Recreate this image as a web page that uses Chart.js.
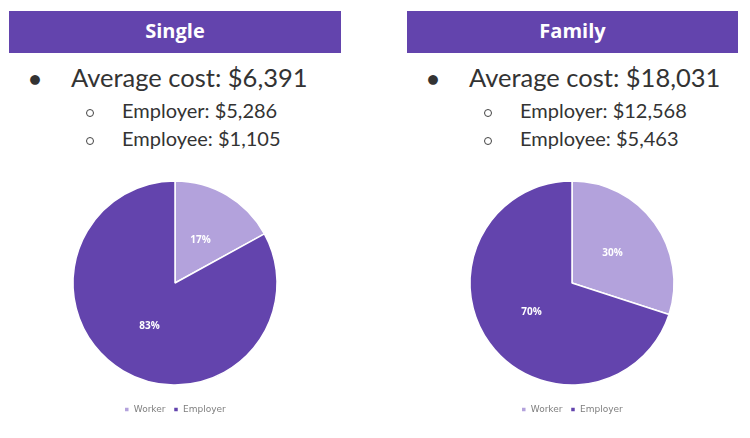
<!DOCTYPE html>
<html><head><meta charset="utf-8">
<script src="https://cdn.jsdelivr.net/npm/chart.js@4.4.1/dist/chart.umd.min.js"></script>
<style>
html,body{margin:0;padding:0;background:#fff;width:750px;height:438px;overflow:hidden;font-family:Lato,"Open Sans",sans-serif;}
.hdr{position:absolute;top:11px;height:42px;background:#6344ad;color:#fff;font-family:"Open Sans",sans-serif;font-weight:700;font-size:20px;line-height:40px;text-align:center;}
.t{position:absolute;color:#333;white-space:nowrap;}
.big{font-size:25.5px;}
.small{font-size:20px;}
.wrap{position:absolute;}
.ob{position:absolute;width:6px;height:6px;border:1.3px solid #444;border-radius:50%;}
</style></head>
<body>
<div class="hdr" style="left:9px;width:332px;" id="h1"></div>
<div class="hdr" style="left:407px;width:331px;" id="h2"></div>
<div class="t" style="left:29px;top:66px;font-size:20px;">●</div>
<div class="t big" style="left:71px;top:62px;" id="s1"></div>
<div class="ob" style="left:86px;top:109px;"></div>
<div class="t small" style="left:122px;top:98px;" id="s2"></div>
<div class="ob" style="left:86px;top:137px;"></div>
<div class="t small" style="left:122px;top:126px;" id="s3"></div>
<div class="t" style="left:427px;top:66px;font-size:20px;">●</div>
<div class="t big" style="left:469px;top:62px;" id="f1"></div>
<div class="ob" style="left:484px;top:109px;"></div>
<div class="t small" style="left:520px;top:98px;" id="f2"></div>
<div class="ob" style="left:484px;top:137px;"></div>
<div class="t small" style="left:520px;top:126px;" id="f3"></div>
<div class="wrap" style="left:25px;top:169px;width:300px;height:255px;"><canvas id="c1"></canvas></div>
<div class="wrap" style="left:422px;top:169px;width:300px;height:255px;"><canvas id="c2"></canvas></div>
<script>
const groups = ['Single', 'Family'];
const categories = ['Worker', 'Employer'];
const singleShares = [17, 83];
const familyShares = [30, 70];
const averageCost = ['$6,391', '$18,031'];
const employerCost = ['$5,286', '$12,568'];
const employeeCost = ['$1,105', '$5,463'];
const colors = ['#b3a2dc', '#6344ad'];

document.getElementById('h1').textContent = groups[0];
document.getElementById('h2').textContent = groups[1];
document.getElementById('s1').textContent = 'Average cost: ' + averageCost[0];
document.getElementById('s2').textContent = 'Employer: ' + employerCost[0];
document.getElementById('s3').textContent = 'Employee: ' + employeeCost[0];
document.getElementById('f1').textContent = 'Average cost: ' + averageCost[1];
document.getElementById('f2').textContent = 'Employer: ' + employerCost[1];
document.getElementById('f3').textContent = 'Employee: ' + employeeCost[1];

const labelPlugin = {
  id: 'pctLabels',
  afterDatasetsDraw(chart) {
    const ctx = chart.ctx;
    const meta = chart.getDatasetMeta(0);
    ctx.save();
    ctx.fillStyle = '#ffffff';
    ctx.font = 'bold 10px "Open Sans", sans-serif';
    ctx.textAlign = 'center';
    ctx.textBaseline = 'middle';
    meta.data.forEach((arc, i) => {
      const mid = (arc.startAngle + arc.endAngle) / 2;
      const r = arc.outerRadius * 0.49;
      ctx.fillText(chart.data.datasets[0].data[i] + '%', arc.x + Math.cos(mid) * r, arc.y + Math.sin(mid) * r);
    });
    ctx.restore();
  }
};

function makePie(id, data) {
  new Chart(document.getElementById(id), {
    type: 'pie',
    data: { labels: categories, datasets: [{ data: data, backgroundColor: colors, borderColor: '#ffffff', borderWidth: 1.5 }] },
    options: {
      responsive: true, maintainAspectRatio: false, animation: false,
      radius: 102,
      layout: { padding: 0 },
      plugins: {
        tooltip: { enabled: false },
        legend: {
          position: 'bottom',
          labels: { boxWidth: 5, boxHeight: 5, color: '#7f7f7f', font: { size: 9, family: '"DejaVu Sans", sans-serif' }, padding: 8 }
        }
      }
    },
    plugins: [labelPlugin]
  });
}
makePie('c1', singleShares);
makePie('c2', familyShares);
</script>
</body></html>
